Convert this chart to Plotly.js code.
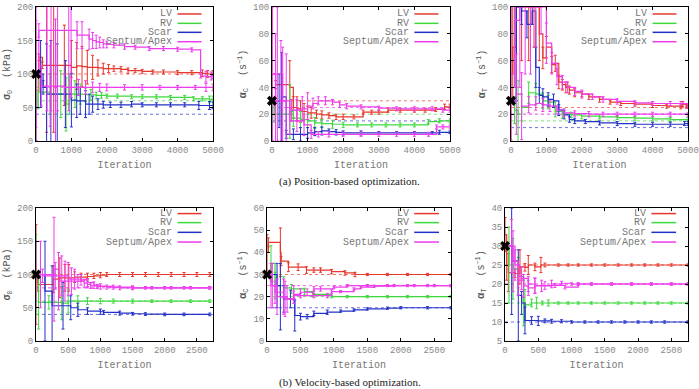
<!DOCTYPE html>
<html>
<head>
<meta charset="utf-8">
<script src="https://cdn.plot.ly/plotly-3.0.1.min.js"></script>
<style>
  html, body { margin: 0; padding: 0; background: #fff; }
  #chart { width: 699px; height: 389px; }
</style>
</head>
<body>
<div id="chart"></div>
<script>
// Region names (Septum and Apex share one colour and one legend entry)
const regions = ['LV', 'RV', 'Scar', 'Septum', 'Apex'];
const legendLabels = ['LV', 'RV', 'Scar', 'Septum/Apex'];

// ---------- (a) Position-based optimization: sigma_0 (kPa) ----------
const posSigma_LV_it   = [0, 80, 180, 300, 500, 800, 1000, 1150, 1300, 1450, 1600, 1750, 1900, 2050, 2200, 2400, 2600, 2800, 3000, 3300, 3600, 4000, 4400, 4700, 4850, 5000];
const posSigma_LV_val  = [75, 125, 113, 113, 113, 113, 110, 112, 111, 110, 110, 109, 108, 108, 108, 107, 105, 105, 104, 103, 103, 102, 102, 101, 100, 101];
const posSigma_LV_err  = [75, 5, 5, 100, 100, 60, 40, 35, 30, 25, 18, 12, 8, 6, 4, 4, 4, 3, 3, 3, 3, 3, 3, 5, 5, 4];
const posSigma_RV_it   = [0, 60, 400, 700, 850, 950, 1100, 1250, 1400, 1550, 1700, 1850, 2000, 2300, 2700, 3000, 3400, 3800, 4200, 4450, 4700, 4900, 5000];
const posSigma_RV_val  = [50, 73, 70, 70, 55, 70, 70, 70, 69, 69, 68, 68, 67, 67, 66, 66, 66, 65, 65, 63, 63, 62, 63];
const posSigma_RV_err  = [50, 25, 30, 35, 40, 30, 20, 15, 10, 8, 5, 4, 3, 3, 3, 3, 3, 3, 3, 3, 3, 5, 4];
const posSigma_Scar_it  = [0, 130, 200, 300, 420, 600, 830, 1000, 1150, 1250, 1400, 1500, 1600, 1750, 1900, 2100, 2400, 2700, 3000, 3400, 3800, 4200, 4600, 4900, 5000];
const posSigma_Scar_val = [100, 100, 80, 70, 70, 70, 70, 61, 60, 60, 55, 55, 55, 55, 54, 54, 54, 55, 54, 54, 54, 54, 53, 53, 53];
const posSigma_Scar_err = [0, 50, 10, 75, 80, 75, 50, 40, 25, 20, 20, 15, 12, 8, 5, 4, 4, 4, 3, 3, 3, 3, 6, 6, 5];
const posSigma_Septum_it  = [0, 80, 310, 425, 610, 925, 990, 1160, 1300, 1500, 1600, 1700, 1800, 1900, 2000, 2200, 2500, 2800, 3200, 3600, 4000, 4400, 4650, 4800, 4950, 5000];
const posSigma_Septum_val = [100, 165, 165, 165, 165, 165, 165, 158, 158, 152, 150, 148, 147, 145, 144, 143, 141, 140, 138, 138, 137, 136, 97, 96, 97, 97];
const posSigma_Septum_err = [100, 10, 120, 120, 120, 120, 100, 20, 20, 15, 12, 10, 8, 6, 5, 4, 4, 3, 3, 3, 3, 3, 3, 8, 6, 4];
const posSigma_Apex_it  = [0, 150, 400, 550, 800, 1000, 1200, 1400, 1600, 1800, 2000, 2500, 3000, 3500, 4000, 4500, 4800, 5000];
const posSigma_Apex_val = [100, 82, 82, 82, 80, 80, 80, 80, 80, 80, 80, 80, 80, 80, 80, 80, 80, 80];
const posSigma_Apex_err = [80, 30, 60, 100, 20, 15, 12, 10, 8, 6, 5, 4, 4, 3, 3, 3, 6, 5];
const posSigma_truth = [100, 60, 40, 80, 80];

// ---------- (a) alpha_C (1/s) ----------
const posAlphaC_LV_it   = [0, 100, 500, 600, 700, 800, 900, 1000, 1100, 1250, 1400, 1600, 1800, 2000, 2300, 2560, 2800, 3000, 3260, 3600, 4000, 4300, 4600, 4850, 5000];
const posAlphaC_LV_val  = [50, 42, 40, 25, 24, 22, 22, 21, 21, 20, 19.5, 19, 18, 18, 18, 21.5, 21.5, 21.5, 23, 23, 23, 23, 23.5, 25.5, 26];
const posAlphaC_LV_err  = [50, 3, 20, 8, 9, 8, 6, 5, 4, 3, 3, 2, 2, 2, 1.5, 1.5, 1.5, 1.5, 1.5, 1.5, 1.5, 1.5, 1.5, 2, 1.5];
const posAlphaC_RV_it   = [0, 60, 250, 500, 600, 800, 1000, 1200, 1400, 1700, 2000, 2400, 2800, 3200, 3600, 4000, 4390, 4700, 5000];
const posAlphaC_RV_val  = [25, 20, 20, 22, 17, 16, 15, 13.5, 13, 12.5, 12, 12, 12, 12, 12, 12, 14.5, 15, 15];
const posAlphaC_RV_err  = [25, 6, 8, 20, 6, 6, 5, 4, 3, 3, 2, 1.5, 1.5, 1.5, 1.5, 1.5, 1.5, 1.5, 1.5];
const posAlphaC_Scar_it  = [0, 200, 270, 400, 600, 800, 1000, 1200, 1400, 1600, 1800, 2000, 2500, 3000, 3500, 4000, 4500, 4700, 5000];
const posAlphaC_Scar_val = [30, 30, 33, 5, 5, 5, 6, 7, 7.5, 7, 6.5, 6, 6, 6, 6, 6, 6, 6.5, 6.5];
const posAlphaC_Scar_err = [0, 20, 33, 3, 4, 5, 4, 3, 3, 2, 2, 1.5, 1.5, 1, 1, 1, 1, 1.5, 1];
const posAlphaC_Septum_it  = [0, 100, 250, 400, 550, 700, 850, 1000, 1150, 1300, 1500, 1700, 1900, 2100, 2500, 3000, 3500, 4000, 4500, 4800, 5000];
const posAlphaC_Septum_val = [50, 30, 30, 25, 23, 23, 24, 26, 28, 30, 30, 29, 27, 26, 25.5, 24.5, 24, 24, 24, 23, 23];
const posAlphaC_Septum_err = [50, 50, 45, 40, 8, 8, 9, 10, 4, 3, 3, 2, 2, 2, 1.5, 1.5, 1.5, 1.5, 1.5, 1.5, 1.5];
const posAlphaC_Apex_it  = [0, 150, 300, 500, 700, 900, 1100, 1300, 1600, 2000, 2500, 3000, 3500, 4000, 4400, 4620, 4800, 5000];
const posAlphaC_Apex_val = [50, 50, 30, 15, 15, 12, 5, 5, 5, 5, 5, 5, 5, 5, 5, 10.5, 10.5, 10.5];
const posAlphaC_Apex_err = [50, 50, 40, 10, 8, 8, 3, 2, 2, 1.5, 1.5, 1.5, 1.5, 1.5, 1.5, 1.5, 1.5, 1.5];
const posAlphaC_truth = [30, 20, 15, 25, 25];

// ---------- (a) alpha_T (1/s) ----------
const posAlphaT_LV_it   = [0, 50, 150, 300, 500, 650, 800, 900, 1000, 1150, 1250, 1350, 1450, 1550, 1650, 1800, 2000, 2200, 2500, 2800, 3100, 3500, 4000, 4400, 4800, 4850, 4950, 5000];
const posAlphaT_LV_val  = [50, 70, 100, 100, 100, 100, 80, 62, 70, 57, 58, 44, 42, 40, 38, 36, 35, 33, 31, 29, 28, 27.5, 26.5, 26, 25.5, 27.5, 26, 26];
const posAlphaT_LV_err  = [50, 40, 60, 40, 40, 30, 20, 8, 8, 6, 6, 5, 4, 4, 3, 3, 2, 2, 2, 1.5, 1.5, 1.5, 1.5, 1.5, 1.5, 2, 1.5, 1.5];
const posAlphaT_RV_it   = [0, 100, 200, 300, 500, 700, 900, 1050, 1250, 1450, 1700, 2000, 2500, 3000, 3500, 4000, 4500, 5000];
const posAlphaT_RV_val  = [30, 23, 20, 25, 36, 35, 30, 29, 22, 20, 19.5, 18.5, 18, 17.5, 17, 16.5, 16, 16];
const posAlphaT_RV_err  = [0, 10, 25, 10, 8, 8, 6, 5, 4, 3, 2, 2, 1.5, 1.5, 1.5, 1.5, 1.5, 1.5];
const posAlphaT_Scar_it  = [0, 150, 300, 450, 600, 700, 800, 900, 1050, 1200, 1350, 1500, 1650, 1800, 2100, 2500, 3000, 3500, 4000, 4500, 4900, 5000];
const posAlphaT_Scar_val = [30, 100, 97, 87, 97, 55, 34, 33, 31, 30, 23, 19.5, 16, 15, 14.5, 13.5, 13, 12.5, 12.5, 12.5, 13, 13];
const posAlphaT_Scar_err = [0, 70, 10, 10, 10, 15, 6, 6, 5, 5, 4, 3, 2, 2, 1.5, 1.5, 1.5, 1.5, 1.5, 1.5, 1.5, 1.5];
const posAlphaT_Septum_it  = [0, 100, 250, 400, 550, 700, 850, 1000, 1150, 1300, 1450, 1600, 1800, 2000, 2300, 2600, 3000, 3500, 4000, 4500, 4800, 5000];
const posAlphaT_Septum_val = [50, 90, 100, 100, 100, 100, 100, 73, 58, 48, 44, 40, 37, 35, 33, 31, 29.5, 28.5, 28, 28, 28, 26];
const posAlphaT_Septum_err = [50, 50, 60, 50, 50, 30, 20, 15, 8, 6, 5, 4, 3, 3, 2, 2, 2, 1.5, 1.5, 1.5, 1.5, 1.5];
const posAlphaT_Apex_it  = [0, 150, 300, 500, 700, 900, 1100, 1300, 1500, 1800, 2200, 2600, 3000, 3500, 4000, 4500, 5000];
const posAlphaT_Apex_val = [30, 35, 26, 27, 28, 27, 26, 23, 21, 20.5, 20, 20, 20, 20, 20, 20, 19.5];
const posAlphaT_Apex_err = [0, 30, 25, 6, 5, 5, 4, 3, 3, 2, 2, 1.5, 1.5, 1.5, 1.5, 1.5, 1.5];
const posAlphaT_truth = [25, 15, 10, 20, 20];

// ---------- (b) Velocity-based optimization: sigma_0 (kPa) ----------
const velSigma_LV_it   = [0, 30, 270, 370, 450, 510, 600, 700, 800, 900, 1000, 1100, 1300, 1500, 1700, 1900, 2100, 2300, 2500, 2700];
const velSigma_LV_val  = [100, 85, 93, 95, 95, 95, 96, 96, 97, 98, 99, 100, 100, 100, 100, 100, 100, 100, 100, 100];
const velSigma_LV_err  = [75, 10, 20, 30, 20, 20, 8, 6, 5, 4, 4, 3, 3, 3, 3, 3, 3, 3, 3, 3];
const velSigma_RV_it   = [0, 40, 200, 400, 500, 650, 800, 1000, 1200, 1500, 1800, 2100, 2400, 2700];
const velSigma_RV_val  = [100, 58, 58, 57, 60, 60, 60, 60, 60, 60, 60, 60, 60, 60];
const velSigma_RV_err  = [60, 40, 10, 25, 18, 8, 5, 4, 3, 3, 2, 2, 2, 2];
const velSigma_Scar_it  = [0, 140, 250, 420, 540, 650, 800, 1000, 1050, 1300, 1500, 1700, 2000, 2300, 2700];
const velSigma_Scar_val = [100, 75, 53, 53, 50, 47, 45, 44, 43, 42, 41, 40.5, 40, 40, 40];
const velSigma_Scar_err = [0, 75, 60, 35, 18, 10, 5, 4, 3, 3, 2, 2, 2, 2, 2];
const velSigma_Septum_it  = [0, 70, 280, 350, 450, 550, 650, 750, 800, 850, 950, 1100, 1300, 1500, 1700, 2000, 2300, 2700];
const velSigma_Septum_val = [100, 100, 108, 90, 90, 90, 90, 87, 85, 83, 82, 81, 80, 80, 80, 80, 80, 80];
const velSigma_Septum_err = [50, 50, 78, 43, 30, 20, 10, 6, 5, 4, 3, 3, 3, 2, 2, 2, 2, 2];
const velSigma_Apex_it  = [0, 100, 300, 400, 500, 600, 700, 800, 900, 1000, 1200, 1500, 1800, 2100, 2400, 2700];
const velSigma_Apex_val = [100, 98, 98, 98, 93, 93, 92, 88, 84, 82, 81, 80, 80, 80, 80, 80];
const velSigma_Apex_err = [0, 10, 20, 30, 25, 15, 8, 6, 5, 4, 3, 3, 2, 2, 2, 2];
const velSigma_truth = [100, 60, 40, 80, 80];

// ---------- (b) alpha_C (1/s) ----------
const velAlphaC_LV_it   = [0, 20, 200, 210, 320, 465, 590, 700, 800, 965, 1165, 1315, 1500, 1800, 2100, 2400, 2750];
const velAlphaC_LV_val  = [40, 44.5, 40, 36, 33.3, 33.3, 32, 32, 32, 31.3, 30.7, 30, 30, 30, 30, 30, 30];
const velAlphaC_LV_err  = [8, 2, 11, 2, 2, 1.5, 1.5, 1, 1, 1, 1, 1, 0.5, 0.5, 0.5, 0.5, 0.5];
const velAlphaC_RV_it   = [0, 60, 120, 250, 365, 560, 680, 965, 1200, 1500, 1800, 2100, 2400, 2750];
const velAlphaC_RV_val  = [30, 35, 25, 24, 23.5, 22.3, 21, 20, 20, 20, 20, 20, 20, 20];
const velAlphaC_RV_err  = [0, 8, 6, 5, 2, 1.5, 1, 0.5, 0.5, 0.5, 0.5, 0.5, 0.5, 0.5];
const velAlphaC_Scar_it  = [0, 150, 200, 250, 350, 415, 500, 600, 700, 900, 1100, 1300, 1500, 1800, 2000, 2400, 2750];
const velAlphaC_Scar_val = [30, 25, 20, 19, 19, 11.5, 11, 11, 12.5, 13, 13.5, 14, 14.5, 14.8, 15, 15, 15];
const velAlphaC_Scar_err = [0, 10, 15, 6, 4, 7, 1.5, 1, 1, 1, 0.5, 0.5, 0.5, 0.5, 0.5, 0.5, 0.5];
const velAlphaC_Septum_it  = [0, 60, 120, 250, 300, 400, 500, 600, 700, 800, 1000, 1200, 1500, 1800, 2100, 2400, 2750];
const velAlphaC_Septum_val = [30, 25, 22, 20, 19, 21, 22, 22, 23.5, 23.5, 24.3, 25, 25, 25, 25, 25, 25];
const velAlphaC_Septum_err = [0, 10, 5, 8, 6, 4, 1.5, 1.5, 1, 1, 0.5, 0.5, 0.5, 0.5, 0.5, 0.5, 0.5];
const velAlphaC_Apex_it  = [0, 80, 150, 270, 400, 500, 700, 900, 965, 1100, 1300, 1400, 1600, 1900, 2200, 2500, 2750];
const velAlphaC_Apex_val = [30, 25, 20, 19, 20.5, 20.5, 20.5, 20.5, 22.3, 22.3, 23.5, 24.3, 24.7, 25, 25, 25, 25];
const velAlphaC_Apex_err = [0, 10, 8, 8, 2, 1, 1, 1, 0.8, 0.5, 0.5, 0.5, 0.5, 0.5, 0.5, 0.5, 0.5];
const velAlphaC_truth = [30, 20, 15, 25, 25];

// ---------- (b) alpha_T (1/s) ----------
const velAlphaT_LV_it   = [0, 25, 50, 150, 225, 300, 350, 450, 540, 600, 800, 950, 1100, 1300, 1500, 1700, 1900, 2100, 2300, 2500, 2750];
const velAlphaT_LV_val  = [33, 25, 23, 22.7, 24.5, 24.4, 25, 24.5, 25, 25, 25, 25, 25, 25, 25, 25, 25, 25, 25, 25, 25];
const velAlphaT_LV_err  = [4.5, 4, 5, 1, 4.5, 1, 2.5, 1, 2, 0.5, 0.3, 0.3, 0.3, 0.3, 0.3, 0.3, 0.3, 0.3, 0.3, 0.3, 0.3];
const velAlphaT_RV_it   = [0, 60, 120, 200, 280, 300, 400, 475, 560, 650, 800, 950, 1100, 1300, 1500, 1700, 1900, 2100, 2300, 2500, 2750];
const velAlphaT_RV_val  = [30, 25, 24, 22, 15, 14.5, 15, 15, 15, 15, 15, 15, 15, 15, 15, 15, 15, 15, 15, 15, 15];
const velAlphaT_RV_err  = [0, 10, 8, 5, 6, 4, 1, 1.5, 0.5, 0.8, 0.3, 0.3, 0.3, 0.3, 0.3, 0.3, 0.3, 0.3, 0.3, 0.3, 0.3];
const velAlphaT_Scar_it  = [0, 100, 200, 250, 300, 400, 500, 600, 700, 850, 1000, 1200, 1400, 1600, 1800, 2000, 2200, 2400, 2750];
const velAlphaT_Scar_val = [30, 26, 17, 15, 10.4, 10.4, 10.3, 10.3, 10.2, 10.2, 10, 10, 10, 10, 10, 10, 10, 10, 10];
const velAlphaT_Scar_err = [0, 14, 12, 3, 3.5, 1, 1.2, 0.5, 0.5, 0.4, 0.3, 0.3, 0.3, 0.3, 0.3, 0.3, 0.3, 0.3, 0.3];
const velAlphaT_Septum_it  = [0, 100, 150, 200, 250, 350, 450, 550, 700, 850, 1000, 1100, 1300, 1600, 1900, 2200, 2500, 2750];
const velAlphaT_Septum_val = [30, 30, 25, 22, 21.5, 20, 19.5, 19.5, 20, 20.2, 20, 20, 20, 20, 20, 20, 20, 20];
const velAlphaT_Septum_err = [0, 7, 4, 3, 3, 2, 2, 1.5, 1, 0.5, 0.3, 0.3, 0.3, 0.3, 0.3, 0.3, 0.3, 0.3];
const velAlphaT_Apex_it  = [0, 120, 200, 280, 350, 450, 600, 750, 900, 1100, 1300, 1600, 1900, 2200, 2500, 2750];
const velAlphaT_Apex_val = [30, 26, 21, 19.5, 19, 19.6, 19.6, 19.6, 19.2, 20, 20, 20, 20, 20, 20, 20];
const velAlphaT_Apex_err = [0, 8, 4, 3, 2, 2, 1, 0.5, 0.5, 0.3, 0.3, 0.3, 0.3, 0.3, 0.3, 0.3];
const velAlphaT_truth = [25, 15, 10, 20, 20];

// Initial guess shown as a black cross at iteration 0
const initialGuess = [100, 30, 30, 100, 30, 30];

// Axis ranges and tick steps
const xRanges = [[0, 5000], [0, 5000], [0, 5000], [0, 2750], [0, 2750], [0, 2750]];
const xSteps  = [1000, 1000, 1000, 500, 500, 500];
const yRanges = [[0, 200], [0, 100], [0, 100], [0, 200], [0, 60], [5, 40]];
const ySteps  = [50, 20, 20, 50, 10, 5];

const sigmaTitle = '<b>σ</b><sub>0</sub>  (kPa)';
const alphaCTitle = '<b>α</b><sub>C</sub>  (s<sup>−1</sup>)';
const alphaTTitle = '<b>α</b><sub>T</sub>  (s<sup>−1</sup>)';
const yTitles = [sigmaTitle, alphaCTitle, alphaTTitle, sigmaTitle, alphaCTitle, alphaTTitle];

// ---------- styling ----------
const lineColors  = { LV: '#e8372c', RV: '#3fd93f', Scar: '#2330c8', Septum: '#ee3cee', Apex: '#ee3cee' };
const truthColors = { LV: '#f07a70', RV: '#7be27b', Scar: '#6a72e0', Septum: '#f07ef0', Apex: '#f07ef0' };
const MONO = '"Liberation Mono", "DejaVu Sans Mono", monospace';

const panelData = {
  posSigma: {
    LV: [posSigma_LV_it, posSigma_LV_val, posSigma_LV_err],
    RV: [posSigma_RV_it, posSigma_RV_val, posSigma_RV_err],
    Scar: [posSigma_Scar_it, posSigma_Scar_val, posSigma_Scar_err],
    Septum: [posSigma_Septum_it, posSigma_Septum_val, posSigma_Septum_err],
    Apex: [posSigma_Apex_it, posSigma_Apex_val, posSigma_Apex_err],
    truth: posSigma_truth
  },
  posAlphaC: {
    LV: [posAlphaC_LV_it, posAlphaC_LV_val, posAlphaC_LV_err],
    RV: [posAlphaC_RV_it, posAlphaC_RV_val, posAlphaC_RV_err],
    Scar: [posAlphaC_Scar_it, posAlphaC_Scar_val, posAlphaC_Scar_err],
    Septum: [posAlphaC_Septum_it, posAlphaC_Septum_val, posAlphaC_Septum_err],
    Apex: [posAlphaC_Apex_it, posAlphaC_Apex_val, posAlphaC_Apex_err],
    truth: posAlphaC_truth
  },
  posAlphaT: {
    LV: [posAlphaT_LV_it, posAlphaT_LV_val, posAlphaT_LV_err],
    RV: [posAlphaT_RV_it, posAlphaT_RV_val, posAlphaT_RV_err],
    Scar: [posAlphaT_Scar_it, posAlphaT_Scar_val, posAlphaT_Scar_err],
    Septum: [posAlphaT_Septum_it, posAlphaT_Septum_val, posAlphaT_Septum_err],
    Apex: [posAlphaT_Apex_it, posAlphaT_Apex_val, posAlphaT_Apex_err],
    truth: posAlphaT_truth
  },
  velSigma: {
    LV: [velSigma_LV_it, velSigma_LV_val, velSigma_LV_err],
    RV: [velSigma_RV_it, velSigma_RV_val, velSigma_RV_err],
    Scar: [velSigma_Scar_it, velSigma_Scar_val, velSigma_Scar_err],
    Septum: [velSigma_Septum_it, velSigma_Septum_val, velSigma_Septum_err],
    Apex: [velSigma_Apex_it, velSigma_Apex_val, velSigma_Apex_err],
    truth: velSigma_truth
  },
  velAlphaC: {
    LV: [velAlphaC_LV_it, velAlphaC_LV_val, velAlphaC_LV_err],
    RV: [velAlphaC_RV_it, velAlphaC_RV_val, velAlphaC_RV_err],
    Scar: [velAlphaC_Scar_it, velAlphaC_Scar_val, velAlphaC_Scar_err],
    Septum: [velAlphaC_Septum_it, velAlphaC_Septum_val, velAlphaC_Septum_err],
    Apex: [velAlphaC_Apex_it, velAlphaC_Apex_val, velAlphaC_Apex_err],
    truth: velAlphaC_truth
  },
  velAlphaT: {
    LV: [velAlphaT_LV_it, velAlphaT_LV_val, velAlphaT_LV_err],
    RV: [velAlphaT_RV_it, velAlphaT_RV_val, velAlphaT_RV_err],
    Scar: [velAlphaT_Scar_it, velAlphaT_Scar_val, velAlphaT_Scar_err],
    Septum: [velAlphaT_Septum_it, velAlphaT_Septum_val, velAlphaT_Septum_err],
    Apex: [velAlphaT_Apex_it, velAlphaT_Apex_val, velAlphaT_Apex_err],
    truth: velAlphaT_truth
  }
};
const panelOrder = ['posSigma', 'posAlphaC', 'posAlphaT', 'velSigma', 'velAlphaC', 'velAlphaT'];

// Subplot placement (paper fractions of the 699x389 figure)
const W = 699, H = 389;
const xDomains = [[36, 213], [272, 450], [511, 688], [36, 213], [267, 451], [505, 688]].map(d => [d[0] / W, d[1] / W]);
const yDomains = [[7, 141], [7, 141], [7, 141], [208, 341], [208, 341], [208, 341]].map(d => [1 - d[1] / H, 1 - d[0] / H]);

const traces = [];
const layout = {
  width: W, height: H,
  margin: { l: 0, r: 0, t: 0, b: 0 },
  paper_bgcolor: '#fff', plot_bgcolor: '#fff',
  showlegend: false,
  font: { family: MONO, color: '#777', size: 9 },
  annotations: [], shapes: []
};

panelOrder.forEach((key, p) => {
  const n = p + 1;
  const xa = n === 1 ? 'x' : 'x' + n;
  const ya = n === 1 ? 'y' : 'y' + n;
  const d = panelData[key];

  // True values as dotted reference lines
  regions.forEach((r, i) => {
    traces.push({
      type: 'scatter', mode: 'lines', xaxis: xa, yaxis: ya,
      x: xRanges[p], y: [d.truth[i], d.truth[i]],
      line: { color: truthColors[r], width: 1, dash: 'dot' },
      hoverinfo: 'skip'
    });
  });

  // Running estimates: step lines with error bars
  regions.forEach(r => {
    const [it, val, err] = d[r];
    traces.push({
      type: 'scatter', mode: 'lines', xaxis: xa, yaxis: ya,
      x: it, y: val,
      line: { color: lineColors[r], width: 1.2, shape: 'hv' },
      error_y: { type: 'data', array: err, visible: true, color: lineColors[r], thickness: 1, width: 1.5 }
    });
  });

  // Initial guess marker
  traces.push({
    type: 'scatter', mode: 'markers', xaxis: xa, yaxis: ya,
    x: [0], y: [initialGuess[p]], cliponaxis: false,
    marker: { symbol: 'x', size: 9, color: '#000' }
  });

  const axisCommon = {
    showline: true, linecolor: '#000', linewidth: 1, mirror: 'allticks',
    ticks: 'inside', ticklen: 3, tickcolor: '#000', tickwidth: 1,
    showgrid: false, zeroline: false,
    tickfont: { family: MONO, size: 9, color: '#888' }
  };
  layout['xaxis' + (n === 1 ? '' : n)] = Object.assign({}, axisCommon, {
    domain: xDomains[p], anchor: ya, range: xRanges[p], dtick: xSteps[p], tick0: 0,
    title: { text: 'Iteration', font: { family: MONO, size: 10, color: '#777' }, standoff: 6 }
  });
  layout['yaxis' + (n === 1 ? '' : n)] = Object.assign({}, axisCommon, {
    domain: yDomains[p], anchor: xa, range: yRanges[p], dtick: ySteps[p], tick0: 0,
    title: { text: yTitles[p], font: { family: MONO, size: 10, color: '#555' }, standoff: 4 }
  });

  // In-plot key: label right-aligned, colour sample to its right
  const rowsY = p < 3 ? [0.948, 0.878, 0.811, 0.741] : [0.958, 0.890, 0.817, 0.744];
  legendLabels.forEach((lab, i) => {
    const col = lineColors[regions[i]];
    layout.annotations.push({
      xref: xa + ' domain', yref: ya + ' domain', x: 0.775, y: rowsY[i],
      xanchor: 'right', yanchor: 'middle', showarrow: false, text: lab,
      height: 9, borderpad: 0,
      font: { family: MONO, size: 10, color: '#777' }
    });
    layout.shapes.push({
      type: 'line', xref: xa + ' domain', yref: ya + ' domain',
      x0: 0.80, x1: 0.935, y0: rowsY[i], y1: rowsY[i],
      line: { color: col, width: 1.5 }
    });
  });
});

// Sub-figure captions
layout.annotations.push({
  xref: 'paper', yref: 'paper', x: 0.5, y: 1 - 182 / H, xanchor: 'center', yanchor: 'middle',
  showarrow: false, text: '(a) Position-based optimization.',
  font: { family: '"Liberation Serif", "DejaVu Serif", serif', size: 11, color: '#222' }
});
layout.annotations.push({
  xref: 'paper', yref: 'paper', x: 0.5, y: 1 - 382 / H, xanchor: 'center', yanchor: 'middle',
  showarrow: false, text: '(b) Velocity-based optimization.',
  font: { family: '"Liberation Serif", "DejaVu Serif", serif', size: 11, color: '#222' }
});

Plotly.newPlot('chart', traces, layout, { staticPlot: true, displayModeBar: false });
</script>
</body>
</html>
